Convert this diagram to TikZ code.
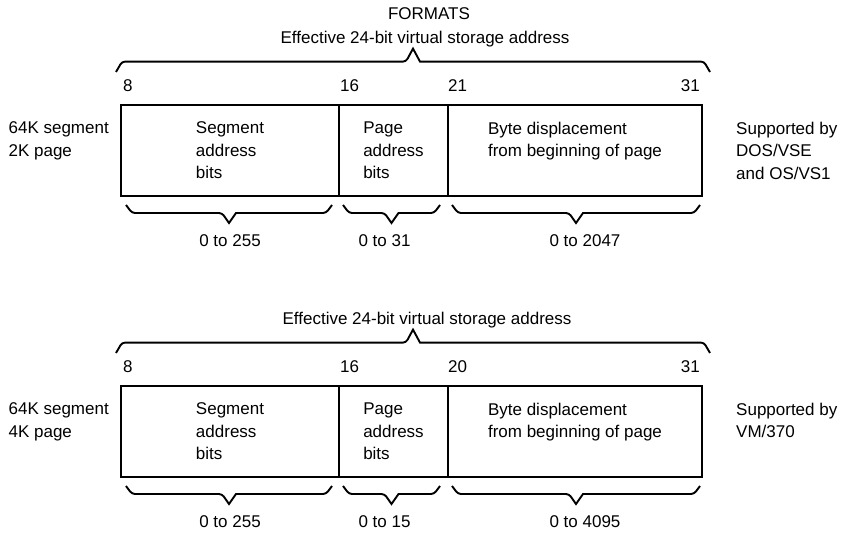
\documentclass[tikz,border=0pt]{standalone}
\usepackage{fontspec}
\setmainfont{Liberation Sans}
\usetikzlibrary{positioning,calc}
\tikzset{
  field/.style={draw, line width=1.8pt, outer sep=0pt, inner sep=0pt, minimum height=91pt, align=left},
  txt/.style={inner sep=0pt, align=left},
  bitno/.style={inner sep=0pt},
  brace/.style={line width=1.9pt, rounded corners=3pt},
}
% brace between two coordinates; #3 = 1 points down, negative points up
\newcommand{\fieldbrace}[3]{%
  \draw[brace] (#1) -- ++(6,#3*8) -- ($(#1)!.5!(#2)+(-7,#3*8)$) [sharp corners]
    -- ($(#1)!.5!(#2)+(0,#3*18)$) -- ($(#1)!.5!(#2)+(7,#3*8)$) [rounded corners=3pt]
    -- ($(#2)+(-6,#3*8)$) -- (#2);}

\begin{document}
\begin{tikzpicture}[x=1pt, y=-1pt, font=\fontsize{17}{22.5}\selectfont]
  \useasboundingbox (0,0) rectangle (845,535);

  % Upper format: 64K segment, 2K page
  \node[field, minimum width=218pt, anchor=north west] (seg1) at (121,105) {Segment\\address\\bits};
  \node[field, minimum width=109pt, right=0pt of seg1] (page1) {Page\\address\\bits};
  \node[field, minimum width=254pt, right=0pt of page1] (disp1) {Byte displacement\\from beginning of page\\\vphantom{b}};

  \node[bitno, above right=13pt and 2pt of seg1.north west] (n8a) {8};
  \node[bitno, above right=13pt and 1pt of page1.north west] (n16a) {16};
  \node[bitno, above right=13pt and 0pt of disp1.north west] (n21a) {21};
  \node[bitno, above left=13pt and 2pt of disp1.north east] (n31a) {31};

  \node[txt, left=12pt of seg1] (fmt1) {64K segment\\2K page\\\vphantom{b}};
  \node[txt, right=34pt of disp1] (sys1) {Supported by\\DOS/VSE\\and OS/VS1};

  \coordinate (t1l) at ($(seg1.north west)+(-5,-33)$);
  \coordinate (t1r) at ($(disp1.north east)+(8,-33)$);
  \coordinate (t1m) at ($(t1l)!.5!(t1r)$);
  \fieldbrace{t1l}{t1r}{-1.3}
  \node[txt, above=25pt of t1m, xshift=12pt] (eff1) {Effective 24-bit virtual storage address};
  \node[txt, above=10.5pt of eff1, xshift=4pt] (title) {FORMATS};

  \coordinate (u1a) at ($(seg1.south west)+(5,9)$);
  \coordinate (v1a) at ($(seg1.south east)+(-7,9)$);
  \coordinate (u1b) at ($(page1.south west)+(4,9)$);
  \coordinate (v1b) at ($(page1.south east)+(-8,9)$);
  \coordinate (u1c) at ($(disp1.south west)+(4,9)$);
  \coordinate (v1c) at ($(disp1.south east)+(-2,9)$);
  \fieldbrace{u1a}{v1a}{1}
  \fieldbrace{u1b}{v1b}{1}
  \fieldbrace{u1c}{v1c}{1}

  \node[txt, below=38pt of seg1] (r1a) {0 to 255};
  \node[txt, below=38pt of page1, xshift=-9pt] (r1b) {0 to 31};
  \node[txt, below=38pt of disp1, xshift=10pt] (r1c) {0 to 2047};

  % Lower format: 64K segment, 4K page
  \node[field, minimum width=218pt, anchor=north west] (seg2) at (121,386) {Segment\\address\\bits};
  \node[field, minimum width=109pt, right=0pt of seg2] (page2) {Page\\address\\bits};
  \node[field, minimum width=254pt, right=0pt of page2] (disp2) {Byte displacement\\from beginning of page\\\vphantom{b}};

  \node[bitno, above right=13pt and 2pt of seg2.north west] (n8b) {8};
  \node[bitno, above right=13pt and 1pt of page2.north west] (n16b) {16};
  \node[bitno, above right=13pt and 0pt of disp2.north west] (n20b) {20};
  \node[bitno, above left=13pt and 2pt of disp2.north east] (n31b) {31};

  \node[txt, left=12pt of seg2] (fmt2) {64K segment\\4K page\\\vphantom{b}};
  \node[txt, right=34pt of disp2] (sys2) {Supported by\\VM/370\\\vphantom{b}};

  \coordinate (t2l) at ($(seg2.north west)+(-5,-33)$);
  \coordinate (t2r) at ($(disp2.north east)+(8,-33)$);
  \coordinate (t2m) at ($(t2l)!.5!(t2r)$);
  \fieldbrace{t2l}{t2r}{-1.3}
  \node[txt, above=25pt of t2m, xshift=14pt] (eff2) {Effective 24-bit virtual storage address};

  \coordinate (u2a) at ($(seg2.south west)+(5,9)$);
  \coordinate (v2a) at ($(seg2.south east)+(-7,9)$);
  \coordinate (u2b) at ($(page2.south west)+(4,9)$);
  \coordinate (v2b) at ($(page2.south east)+(-8,9)$);
  \coordinate (u2c) at ($(disp2.south west)+(4,9)$);
  \coordinate (v2c) at ($(disp2.south east)+(-2,9)$);
  \fieldbrace{u2a}{v2a}{1}
  \fieldbrace{u2b}{v2b}{1}
  \fieldbrace{u2c}{v2c}{1}

  \node[txt, below=38pt of seg2] (r2a) {0 to 255};
  \node[txt, below=38pt of page2, xshift=-9pt] (r2b) {0 to 15};
  \node[txt, below=38pt of disp2, xshift=10pt] (r2c) {0 to 4095};
\end{tikzpicture}
\end{document}
